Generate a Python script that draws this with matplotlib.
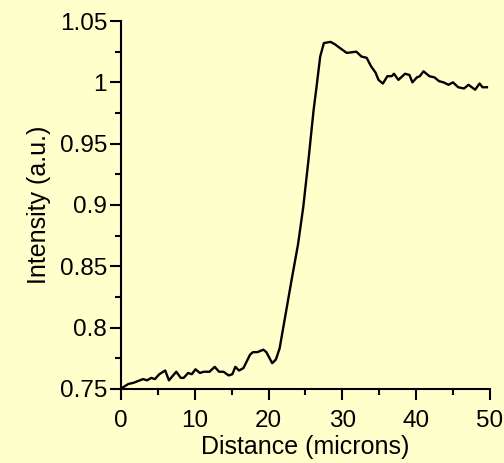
import matplotlib
matplotlib.use("Agg")
import matplotlib.pyplot as plt
from matplotlib.ticker import MultipleLocator

plt.rcParams['font.family'] = ['Liberation Sans', 'DejaVu Sans']

distance = [0.2, 1.0, 1.7, 3.0, 3.55, 4.1, 4.6, 5.2, 6.0, 6.5, 7.5, 8.1, 8.5, 9.1, 9.6,
            10.1, 10.7, 11.2, 12.0, 12.7, 13.3, 13.9, 14.6, 15.1, 15.5, 16.0, 16.6,
            17.5, 17.9, 18.5, 19.3, 19.7, 20.5, 21.0, 21.5, 22.2, 23.1, 24.0, 24.7,
            25.4, 26.1, 26.5, 27.0, 27.5, 28.4, 29.0, 29.9, 30.6, 31.9, 32.6, 33.3,
            33.9, 34.5, 34.9, 35.5, 36.1, 36.7, 37.0, 37.6, 38.5, 39.1, 39.5, 40.1,
            40.5, 41.0, 41.8, 42.5, 43.1, 43.7, 44.4, 45.0, 45.7, 46.5, 47.1, 48.0,
            48.6, 49.0, 49.6]
intensity = [0.751, 0.754, 0.755, 0.758, 0.757, 0.759, 0.758, 0.762, 0.765, 0.757, 0.764,
             0.759, 0.759, 0.763, 0.762, 0.766, 0.763, 0.764, 0.764, 0.768, 0.764, 0.764,
             0.761, 0.762, 0.768, 0.765, 0.767, 0.778, 0.780, 0.780, 0.782, 0.780, 0.771,
             0.774, 0.783, 0.807, 0.838, 0.868, 0.898, 0.936, 0.977, 0.996, 1.021, 1.032,
             1.033, 1.031, 1.027, 1.024, 1.025, 1.021, 1.020, 1.013, 1.008, 1.002, 0.999,
             1.005, 1.005, 1.007, 1.002, 1.007, 1.006, 1.000, 1.004, 1.005, 1.009, 1.005,
             1.004, 1.001, 1.000, 0.998, 1.000, 0.996, 0.995, 0.998, 0.994, 0.999, 0.996,
             0.996]

x_ticks = [0, 10, 20, 30, 40, 50]
x_tick_labels = ["0", "10", "20", "30", "40", "50"]
y_ticks = [0.75, 0.8, 0.85, 0.9, 0.95, 1.0, 1.05]
y_tick_labels = ["0.75", "0.8", "0.85", "0.9", "0.95", "1", "1.05"]

bg = "#FFFFCC"
fig = plt.figure(figsize=(5.04, 4.63), dpi=100, facecolor=bg)
ax = fig.add_axes([0.240, 0.160, 0.732, 0.7946], facecolor=bg)

ax.plot(distance, intensity, color="black", linewidth=1.7)

ax.set_xlim(0, 50)
ax.set_ylim(0.75, 1.05)
ax.set_xticks(x_ticks)
ax.set_xticklabels(x_tick_labels)
ax.set_yticks(y_ticks)
ax.set_yticklabels(y_tick_labels)
ax.xaxis.set_minor_locator(MultipleLocator(5))
ax.yaxis.set_minor_locator(MultipleLocator(0.025))

for s in ("top", "right"):
    ax.spines[s].set_visible(False)
for s in ("left", "bottom"):
    ax.spines[s].set_linewidth(1.5)

ax.tick_params(which="major", direction="out", length=8, width=1.5, labelsize=17.5,
               colors="black")
ax.tick_params(axis="x", which="major", pad=7)
ax.tick_params(axis="y", which="major", pad=2)
ax.tick_params(which="minor", direction="out", length=4.5, width=1.5)

ax.set_xlabel("Distance (microns)", fontsize=18, labelpad=2)
ax.set_ylabel("Intensity (a.u.)", fontsize=18, labelpad=6)

fig.savefig("out.png", dpi=100, facecolor=bg)
